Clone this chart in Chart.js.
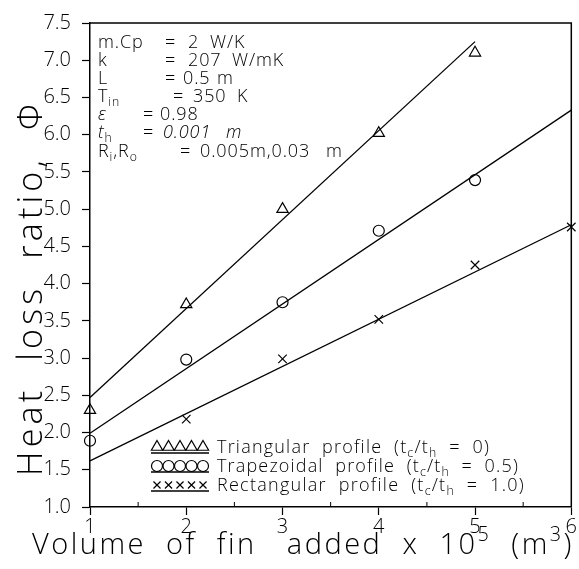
<!DOCTYPE html>
<html>
<head>
<meta charset="utf-8">
<script src="https://cdn.jsdelivr.net/npm/chart.js@4/dist/chart.umd.min.js"></script>
<style>
  html, body { margin: 0; padding: 0; background: #fff; }
  #wrap { width: 579px; height: 569px; }
</style>
</head>
<body>
<div id="wrap"><canvas id="c" width="579" height="569"></canvas></div>
<script>
// Volume of fin added (x 10^5 m^3)
const volumeX = [1, 2, 3, 4, 5];
const rectangularX = [2, 3, 4, 5, 6];

// Computed heat loss ratio, one point per fin volume
const triangularPts = [2.30, 3.72, 5.00, 6.02, 7.10];
const trapezoidalPts = [1.89, 2.98, 3.75, 4.71, 5.39];
const rectangularPts = [2.18, 2.99, 3.52, 4.25, 4.76];

// Straight-line fits (end points) through each profile
const triFitX = [1, 5], triFitY = [2.47, 7.25];
const trapFitX = [1, 6], trapFitY = [1.99, 6.33];
const rectFitX = [1, 6], rectFitY = [1.62, 4.79];

// Axis ticks
const xTicks = [1, 2, 3, 4, 5, 6];
const yTicks = [1.0, 1.5, 2.0, 2.5, 3.0, 3.5, 4.0, 4.5, 5.0, 5.5, 6.0, 6.5, 7.0, 7.5];

const FONT = '"Open Sans", "Lato", "DejaVu Sans", sans-serif';
const INK = '#000';

const pairs = (xs, ys) => xs.map((x, i) => ({ x: x, y: ys[i] }));

// Draws a run of text pieces: [text, kind], kind = '' | 'sub' | 'sup' | 'it'
function setFont(ctx, k, size, weight) {
  const s = (k === 'sub' || k === 'sup') ? size * 0.68 : size;
  ctx.font = (k === 'it' ? 'italic ' : '') + weight + ' ' + s + 'px ' + FONT;
}
function richWidth(ctx, segs, size, weight) {
  let w = 0;
  for (const [t, k] of segs) { setFont(ctx, k, size, weight); w += ctx.measureText(t).width; }
  return w;
}
function rich(ctx, x, y, segs, size, weight, baseline) {
  weight = weight || 300;
  ctx.textBaseline = baseline || 'middle';
  ctx.textAlign = 'left';
  let cx = x;
  for (const [t, k] of segs) {
    setFont(ctx, k, size, weight);
    let dy = 0;
    if (k === 'sub') dy = size * 0.32;
    if (k === 'sup') dy = -size * 0.45;
    ctx.fillText(t, cx, y + dy);
    cx += ctx.measureText(t).width;
  }
  return cx;
}
// letter spacing that makes a run span the given width
function spread(ctx, segs, size, weight, target) {
  ctx.letterSpacing = '0px';
  const w = richWidth(ctx, segs, size, weight);
  const n = segs.reduce((a, s) => a + s[0].length, 0);
  return Math.max(0, (target - w) / n);
}

const paramRows = [
  { y: 43,  cells: [[98, [['m.Cp', '']]], [165, [['=', '']]], [188, [['2', '']]], [210, [['W/K', '']]]] },
  { y: 61,  cells: [[98, [['k', '']]], [165, [['=', '']]], [188, [['207', '']]], [232, [['W/mK', '']]]] },
  { y: 79,  cells: [[98, [['L', '']]], [165, [['=', '']]], [183, [['0.5', '']]], [217, [['m', '']]]] },
  { y: 97,  cells: [[98, [['T', ''], ['in', 'sub']]], [173, [['=', '']]], [193, [['350', '']]], [237, [['K', '']]]] },
  { y: 115, cells: [[98, [['ε', 'it']]], [143, [['=', '']]], [160, [['0.98', '']]]] },
  { y: 133, cells: [[98, [['t', 'it'], ['h', 'sub']]], [143, [['=', '']]], [163, [['0.001', 'it']]], [226, [['m', 'it']]]] },
  { y: 152, cells: [[98, [['R', ''], ['i', 'sub'], [',R', ''], ['o', 'sub']]], [180, [['=', '']]], [200, [['0.005m,0.03', '']]], [326, [['m', '']]]] }
];

const legendRows = [
  { y: 448, style: 'triangle', r: 6.5, segs: [['Triangular  profile  (t', ''], ['c', 'sub'], ['/t', ''], ['h', 'sub'], ['  =  0)', '']], w: 273 },
  { y: 467, style: 'circle', r: 5.5, segs: [['Trapezoidal  profile  (t', ''], ['c', 'sub'], ['/t', ''], ['h', 'sub'], ['  =  0.5)', '']], w: 302 },
  { y: 486, style: 'crossRot', r: 5, segs: [['Rectangular  profile  (t', ''], ['c', 'sub'], ['/t', ''], ['h', 'sub'], ['  =  1.0)', '']], w: 308 }
];

const decor = {
  id: 'decor',
  afterDraw(chart) {
    const ctx = chart.ctx;
    const a = chart.chartArea;
    const xs = chart.scales.x;
    ctx.save();
    ctx.strokeStyle = INK;
    ctx.fillStyle = INK;

    // top and right edges of the frame
    ctx.lineWidth = 1.5;
    ctx.beginPath();
    ctx.moveTo(a.left, a.top); ctx.lineTo(a.right, a.top); ctx.lineTo(a.right, a.bottom);
    ctx.stroke();

    // half-unit ticks on the volume axis
    ctx.lineWidth = 1;
    for (let v = 1.5; v < 6; v += 1) {
      const px = xs.getPixelForValue(v);
      ctx.beginPath(); ctx.moveTo(px, a.bottom); ctx.lineTo(px, a.bottom - 5); ctx.stroke();
    }

    // fin parameters
    ctx.letterSpacing = '0.9px';
    for (const row of paramRows) {
      for (const [x, segs] of row.cells) rich(ctx, x, row.y, segs, 18);
    }

    // legend: a run of five symbols over a rule, then the label
    for (const row of legendRows) {
      ctx.letterSpacing = '0px';
      ctx.lineWidth = 1.2;
      ctx.fillStyle = 'rgba(0,0,0,0)';
      for (let i = 0; i < 5; i++) {
        Chart.helpers.drawPoint(ctx, { pointStyle: row.style, radius: row.r, borderWidth: 1.2, rotation: 0 }, 157 + i * 11.5, row.y - 1);
      }
      ctx.lineWidth = 1.6;
      ctx.beginPath(); ctx.moveTo(151, row.y + 5); ctx.lineTo(209, row.y + 5); ctx.stroke();
      ctx.fillStyle = INK;
      ctx.letterSpacing = spread(ctx, row.segs, 18, 300, row.w) + 'px';
      rich(ctx, 217, row.y, row.segs, 18);
    }

    // y axis title
    const ySegs = [['Heat  loss  ratio,  Φ', '']];
    ctx.save();
    ctx.translate(32, 288);
    ctx.rotate(-Math.PI / 2);
    ctx.letterSpacing = spread(ctx, ySegs, 34, 300, 376) + 'px';
    const yw = richWidth(ctx, ySegs, 34, 300);
    rich(ctx, -yw / 2, 0, ySegs, 34);
    ctx.restore();

    // x axis title
    const xSegs = [['Volume  of  fin   added  x  10', ''], ['5', 'sup'], ['  (m', ''], ['3', 'sup'], [')', '']];
    ctx.letterSpacing = spread(ctx, xSegs, 29, 300, 542) + 'px';
    rich(ctx, 32, 554, xSegs, 29, 300, 'alphabetic');

    ctx.restore();
  }
};

new Chart(document.getElementById('c'), {
  type: 'scatter',
  data: {
    datasets: [
      { label: 'Triangular fit', data: pairs(triFitX, triFitY), showLine: true, borderColor: INK, borderWidth: 1.3, pointRadius: 0 },
      { label: 'Trapezoidal fit', data: pairs(trapFitX, trapFitY), showLine: true, borderColor: INK, borderWidth: 1.3, pointRadius: 0 },
      { label: 'Rectangular fit', data: pairs(rectFitX, rectFitY), showLine: true, borderColor: INK, borderWidth: 1.3, pointRadius: 0 },
      { label: 'Triangular profile', data: pairs(volumeX, triangularPts), pointStyle: 'triangle', pointRadius: 6.5, borderColor: INK, backgroundColor: 'rgba(0,0,0,0)', borderWidth: 1.2 },
      { label: 'Trapezoidal profile', data: pairs(volumeX, trapezoidalPts), pointStyle: 'circle', pointRadius: 5.5, borderColor: INK, backgroundColor: 'rgba(0,0,0,0)', borderWidth: 1.2 },
      { label: 'Rectangular profile', data: pairs(rectangularX, rectangularPts), pointStyle: 'crossRot', pointRadius: 6, borderColor: INK, backgroundColor: 'rgba(0,0,0,0)', borderWidth: 1.2 }
    ]
  },
  options: {
    responsive: false,
    animation: false,
    devicePixelRatio: 1,
    clip: false,
    layout: { padding: { top: 15, right: 4, left: 0, bottom: 0 } },
    plugins: { legend: { display: false }, tooltip: { enabled: false } },
    scales: {
      x: {
        type: 'linear', min: 1, max: 6,
        afterBuildTicks: s => { s.ticks = xTicks.map(v => ({ value: v })); },
        afterFit: s => { s.height = 62; },
        ticks: { color: INK, padding: 0, font: { family: FONT, size: 20, weight: 300 }, callback: v => String(v) },
        grid: { drawOnChartArea: false, tickLength: 8, tickColor: INK, tickWidth: 1.2 },
        border: { color: INK, width: 1.5 }
      },
      y: {
        type: 'linear', min: 1, max: 7.5,
        afterBuildTicks: s => { s.ticks = yTicks.map(v => ({ value: v })); },
        afterFit: s => { s.width = 90; },
        ticks: { color: INK, padding: 11, font: { family: FONT, size: 20, weight: 300 }, callback: v => Number(v).toFixed(1) },
        grid: { drawOnChartArea: false, tickLength: 8, tickColor: INK, tickWidth: 1.2 },
        border: { color: INK, width: 1.5 }
      }
    }
  },
  plugins: [decor]
});
</script>
</body>
</html>
